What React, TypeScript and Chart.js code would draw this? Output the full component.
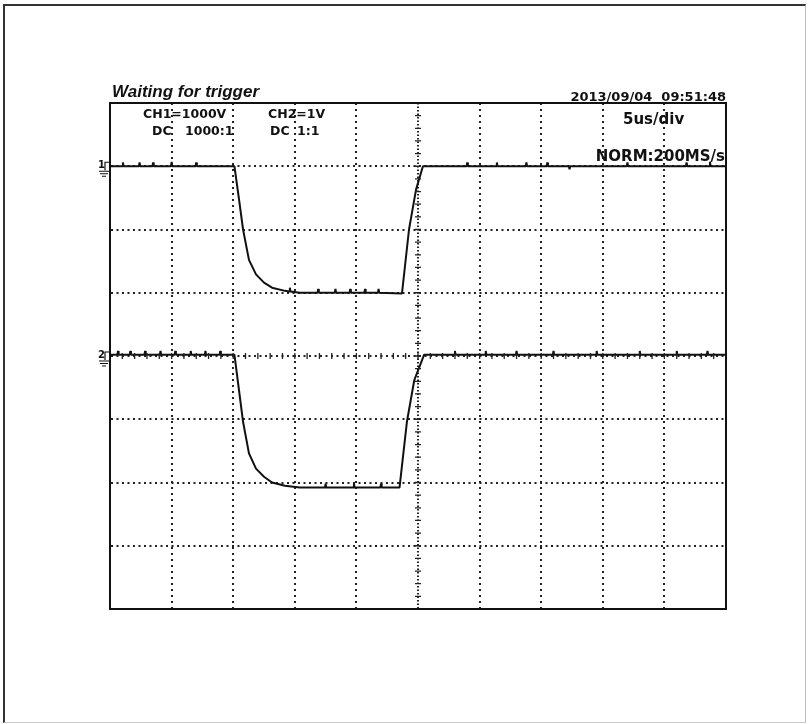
import { useEffect, useRef } from "react";
import { Chart, registerables } from "chart.js";

Chart.register(...registerables);

// Time axis in microseconds (5 us/div, 10 divisions); vertical axis in divisions (8 divisions, 0 = centre)
const ch1Time = [
  0, 1.0, 1.05, 1.1, 2.35, 2.4, 2.45, 3.45, 3.5, 3.55, 4.95, 5.0, 5.05, 6.95, 7.0, 7.05,
  10.1, 10.47, 10.8, 11.28, 11.85, 12.5, 13.15, 14.2, 14.55, 14.6, 14.65, 15.4,
  16.85, 16.9, 16.95, 18.25, 18.3, 18.35, 19.45, 19.5, 19.55, 20.65, 20.7, 20.75, 21.75, 21.8, 21.85,
  23.7, 24.27, 24.84, 25.4,
  28.95, 29.0, 29.05, 31.35, 31.4, 31.45, 33.75, 33.8, 33.85, 35.45, 35.5, 35.55, 37.25, 37.3, 37.35,
  41.95, 42.0, 42.05, 46.75, 46.8, 46.85, 48.65, 48.7, 48.75, 50,
];
const ch1Div = [
  3.0, 3.0, 3.06, 3.0, 3.0, 3.06, 3.0, 3.0, 3.06, 3.0, 3.0, 3.07, 3.0, 3.0, 3.06, 3.0,
  3.0, 2.48, 2.0, 1.52, 1.29, 1.16, 1.08, 1.03, 1.02, 1.08, 1.02, 1.0,
  1.0, 1.06, 1.0, 1.0, 1.06, 1.0, 1.0, 1.06, 1.0, 1.0, 1.06, 1.0, 1.0, 1.06, 1.0,
  0.99, 2.0, 2.63, 3.0,
  3.0, 3.06, 3.0, 3.0, 3.06, 3.0, 3.0, 3.06, 3.0, 3.0, 3.06, 3.0, 3.0, 2.95, 3.0,
  3.0, 3.06, 3.0, 3.0, 3.06, 3.0, 3.0, 3.07, 3.0, 3.0,
];
const ch2Time = [
  0, 0.6, 0.65, 0.7, 1.6, 1.65, 1.7, 2.8, 2.85, 2.9, 4.05, 4.1, 4.15, 5.25, 5.3, 5.35,
  6.5, 6.55, 6.6, 7.7, 7.75, 7.8, 8.9, 8.95, 9.0,
  10.1, 10.47, 10.8, 11.28, 11.85, 12.5, 13.15, 14.2, 15.4,
  17.45, 17.5, 17.55, 19.75, 19.8, 19.85, 21.95, 22.0, 22.05,
  23.5, 24.1, 24.7, 25.5,
  27.95, 28.0, 28.05, 30.45, 30.5, 30.55, 32.95, 33.0, 33.05, 35.95, 36.0, 36.05,
  39.45, 39.5, 39.55, 42.95, 43.0, 43.05, 45.95, 46.0, 46.05, 48.45, 48.5, 48.55, 50,
];
const ch2Div = [
  0.02, 0.02, 0.08, 0.02, 0.02, 0.08, 0.02, 0.02, 0.08, 0.02, 0.02, 0.08, 0.02, 0.02, 0.08, 0.02,
  0.02, 0.08, 0.02, 0.02, 0.08, 0.02, 0.02, 0.08, 0.02,
  0.02, -0.54, -1.04, -1.54, -1.78, -1.91, -2.0, -2.05, -2.08,
  -2.08, -2.02, -2.08, -2.08, -2.02, -2.08, -2.08, -2.02, -2.08,
  -2.08, -1.04, -0.38, 0.02,
  0.02, 0.08, 0.02, 0.02, 0.08, 0.02, 0.02, 0.08, 0.02, 0.02, 0.08, 0.02,
  0.02, 0.08, 0.02, 0.02, 0.08, 0.02, 0.02, 0.08, 0.02, 0.02, 0.08, 0.02, 0.02,
];

const channelLevels = [3, 0];
const channelNames = ["1", "2"];
const headerLeft = "Waiting for trigger";
const headerRight = "2013/09/04  09:51:48";
const infoTexts = ["CH1=1000V", "CH2=1V", "DC", "1000:1", "DC", "1:1", "5us/div", "NORM:200MS/s"];

const FONT = "'DejaVu Sans', sans-serif";

const decorPlugin = {
  id: "scopeDecor",
  afterDraw(chart: any) {
    const { ctx, chartArea, scales } = chart;
    const x = scales.x;
    const y = scales.y;
    const { left, right, top, bottom } = chartArea;
    ctx.save();
    // center graticule ticks
    const cx = x.getPixelForValue(25);
    const cy = y.getPixelForValue(0);
    ctx.strokeStyle = "#222";
    ctx.lineWidth = 1.3;
    ctx.beginPath();
    for (let i = 0; i <= 40; i++) {
      const py = y.getPixelForValue(-4 + i * 0.2);
      ctx.moveTo(cx - 3, py);
      ctx.lineTo(cx + 3, py);
    }
    for (let i = 0; i <= 50; i++) {
      const px = x.getPixelForValue(i);
      ctx.moveTo(px, cy - 3);
      ctx.lineTo(px, cy + 3);
    }
    ctx.stroke();
    // frame
    ctx.strokeStyle = "#111";
    ctx.lineWidth = 2;
    ctx.strokeRect(left, top, right - left, bottom - top);

    // channel markers
    ctx.fillStyle = "#111";
    ctx.font = `bold 10px ${FONT}`;
    ctx.textBaseline = "alphabetic";
    ctx.textAlign = "left";
    channelLevels.forEach((lv, i) => {
      const py = y.getPixelForValue(lv);
      ctx.fillText(channelNames[i], left - 12, py + 2);
      ctx.lineWidth = 1.2;
      ctx.beginPath();
      ctx.moveTo(left - 5, py + 4);
      ctx.lineTo(left - 5, py - 4);
      ctx.lineTo(left - 1, py - 4);
      ctx.moveTo(left - 11, py + 5);
      ctx.lineTo(left - 1, py + 5);
      ctx.moveTo(left - 10, py + 7.5);
      ctx.lineTo(left - 2, py + 7.5);
      ctx.moveTo(left - 8, py + 10);
      ctx.lineTo(left - 4, py + 10);
      ctx.stroke();
    });

    // header texts
    ctx.font = `italic bold 17px 'Liberation Sans', sans-serif`;
    ctx.fillText(headerLeft, left + 2, top - 6);
    ctx.font = `bold 13px ${FONT}`;
    ctx.textAlign = "right";
    ctx.fillText(headerRight, right, top - 2);

    // info texts inside the screen
    ctx.textAlign = "left";
    ctx.font = `bold 12.5px ${FONT}`;
    ctx.fillText(infoTexts[0], left + 33, top + 15);
    ctx.fillText(infoTexts[1], left + 158, top + 15);
    ctx.fillText(infoTexts[2], left + 42, top + 32);
    ctx.fillText(infoTexts[3], left + 75, top + 32);
    ctx.fillText(infoTexts[4], left + 160, top + 32);
    ctx.fillText(infoTexts[5], left + 187, top + 32);
    ctx.font = `bold 15px ${FONT}`;
    ctx.fillText(infoTexts[6], left + 513, top + 21);
    ctx.font = `bold 15px ${FONT}`;
    ctx.textAlign = "right";
    ctx.fillText(infoTexts[7], right - 1, top + 58);
    ctx.restore();
  },
};

export default function App() {
  const ref = useRef<HTMLCanvasElement | null>(null);
  useEffect(() => {
    if (!ref.current) return;
    const chart = new Chart(ref.current, {
      type: "line",
      data: {
        datasets: [
          {
            label: "CH1",
            data: ch1Time.map((t, i) => ({ x: t, y: ch1Div[i] })),
            borderColor: "#111",
            borderWidth: 2,
            borderJoinStyle: "bevel",
            pointRadius: 0,
            tension: 0,
          },
          {
            label: "CH2",
            data: ch2Time.map((t, i) => ({ x: t, y: ch2Div[i] })),
            borderColor: "#111",
            borderWidth: 2,
            borderJoinStyle: "bevel",
            pointRadius: 0,
            tension: 0,
          },
        ],
      },
      options: {
        responsive: false,
        animation: false,
        layout: { padding: { left: 110, top: 103, right: 83, bottom: 115 } },
        plugins: { legend: { display: false }, tooltip: { enabled: false } },
        scales: {
          x: {
            type: "linear",
            min: 0,
            max: 50,
            ticks: { display: false, stepSize: 5 },
            grid: { color: "#222", lineWidth: 2, drawTicks: false },
            border: { display: true, color: "#111", width: 2, dash: (c: any) => (c.tick && c.tick.value === 25 ? [1.5, 2] : [2, 4]) },
          },
          y: {
            type: "linear",
            min: -4,
            max: 4,
            ticks: { display: false, stepSize: 1 },
            grid: { color: "#222", lineWidth: 2, drawTicks: false },
            border: { display: true, color: "#111", width: 2, dash: [2, 3.5] },
          },
        },
      },
      plugins: [decorPlugin],
    });
    return () => chart.destroy();
  }, []);
  return (
    <div style={{ position: "fixed", left: 0, top: 0, width: 809, height: 724, background: "#fff" }}>
      <div
        style={{
          position: "absolute",
          left: 3,
          top: 4,
          width: 800,
          height: 716,
          borderLeft: "2px solid #333",
          borderTop: "2px solid #333",
          borderRight: "1px solid #bbb",
          borderBottom: "1px solid #ccc",
        }}
      />
      <canvas ref={ref} width={809} height={724} style={{ position: "absolute", left: 0, top: 0 }} />
    </div>
  );
}
